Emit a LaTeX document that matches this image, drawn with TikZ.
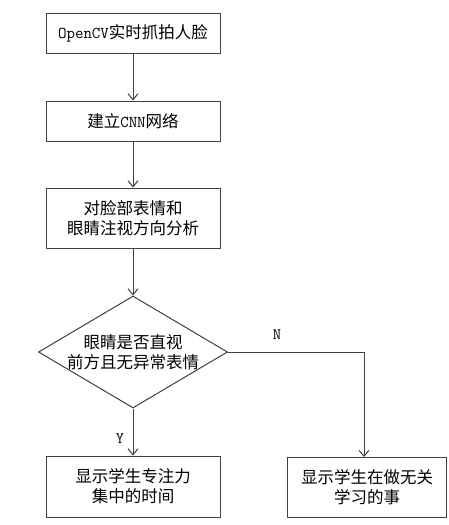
\documentclass[tikz,border=0pt]{standalone}
\usepackage{fontspec}
\setmainfont{Noto Sans CJK SC}
\usetikzlibrary{shapes.geometric,arrows.meta}
\definecolor{linegray}{HTML}{404040}
\newcommand{\lat}[1]{{\fontspec{Latin Modern Mono}#1}}
\begin{document}
\begin{tikzpicture}[x=1pt,y=1pt,
  box/.style={draw=linegray, line width=1pt, rectangle, minimum width=174pt, inner sep=0pt, align=center, font=\fontsize{16.5}{20}\selectfont},
  dia/.style={draw=linegray, line width=1pt, diamond, minimum width=189pt, minimum height=112pt, inner sep=0pt},
  txt/.style={align=center, font=\fontsize{16.5}{20}\selectfont},
  lbl/.style={font=\fontsize{16}{16}\selectfont},
  arr/.style={draw=linegray, line width=1pt, -{Straight Barb[length=6pt,width=10pt]}}]
\useasboundingbox (0,0) rectangle (448,-525);
\node[box, minimum height=40pt] (b1) at (133,-33) {\lat{OpenCV}实时抓拍人脸};
\node[box, minimum height=40pt] (b2) at (133,-121) {建立\lat{CNN}网络};
\node[box, minimum height=60pt] (b3) at (133,-218) {对脸部表情和\\眼睛注视方向分析};
\node[dia] (d) at (133,-352) {};
\node[txt] (dt) at (d.center) {眼睛是否直视\\前方且无异常表情};
\node[box, minimum height=61pt] (b4) at (133,-486.5) {显示学生专注力\\集中的时间};
\node[box, minimum width=159pt, minimum height=60pt] (b5) at (367,-487) {显示学生在做无关\\学习的事};
\coordinate (nx) at (364,-457);
\draw[arr] (b1) -- (b2);
\draw[arr] (b2) -- (b3);
\draw[arr] (b3) -- (d.north);
\draw[arr] (d.south) -- node[lbl, left, pos=0.65, xshift=-5pt] (ly) {\lat{Y}} (b4);
\draw[arr] (d.east) -| node[lbl, above, pos=0.18, yshift=9pt] (ln) {\lat{N}} (nx);
\end{tikzpicture}
\end{document}
